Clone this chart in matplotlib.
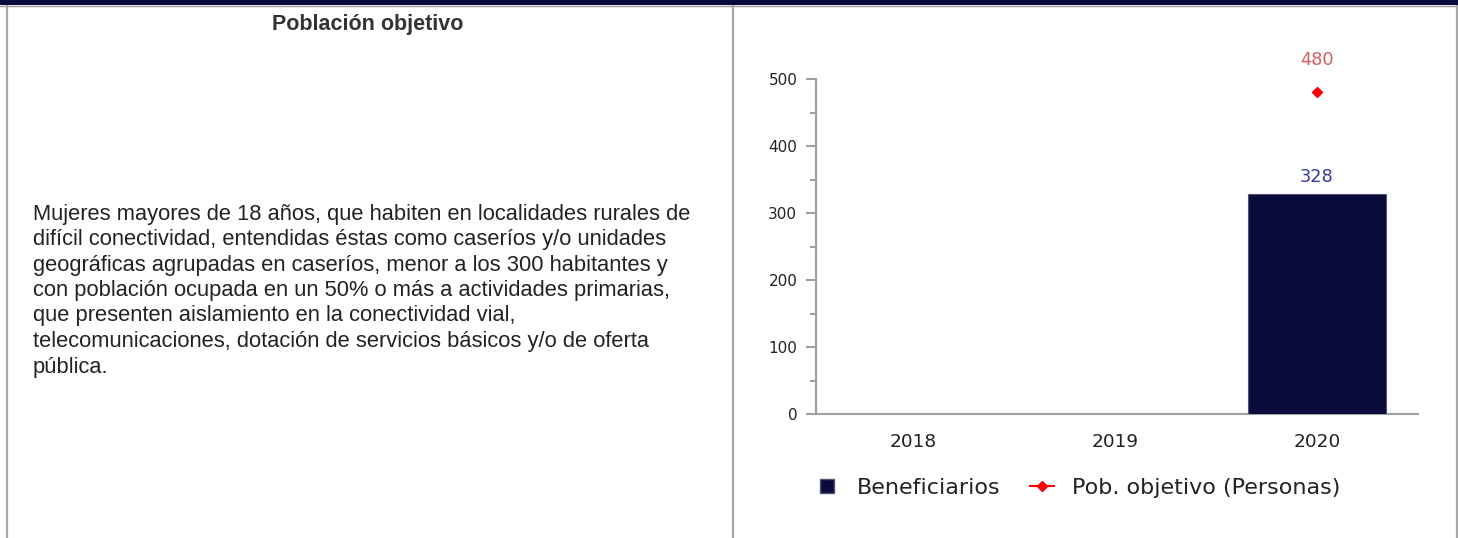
import numpy as np
import matplotlib
matplotlib.use("Agg")
import matplotlib.pyplot as plt
from matplotlib.lines import Line2D
from matplotlib.patches import Rectangle

plt.rcParams["font.family"] = ["DejaVu Sans"]

# ---- data ----
years = ["2018", "2019", "2020"]
beneficiarios = [np.nan, np.nan, 328]
pob_objetivo = [np.nan, np.nan, 480]
series_names = ["Beneficiarios", "Pob. objetivo (Personas)"]
yticks = [0, 100, 200, 300, 400, 500]

title_text = "Población objetivo"
body_lines = [
    "Mujeres mayores de 18 años, que habiten en localidades rurales de",
    "difícil conectividad, entendidas éstas como caseríos y/o unidades",
    "geográficas agrupadas en caseríos, menor a los 300 habitantes y",
    "con población ocupada en un 50% o más a actividades primarias,",
    "que presenten aislamiento en la conectividad vial,",
    "telecomunicaciones, dotación de servicios básicos y/o de oferta",
    "pública.",
]

W, H = 1458, 538
fig = plt.figure(figsize=(W / 100, H / 100), dpi=100)
fig.patch.set_facecolor("white")

def fx(px):
    return px / W

def fy(py):
    return 1 - py / H

# table frame
navy = "#0b0b3b"
fig.patches.append(Rectangle((0, fy(4.5)), 1, 4.5 / H, transform=fig.transFigure,
                             facecolor=navy, edgecolor="none", zorder=5))
fig.add_artist(Line2D([0, 1], [fy(5.5), fy(5.5)], color="#9a9a9a", lw=1.0,
                      transform=fig.transFigure))
for xp in (6.5, 732.5, 1456.5):
    fig.add_artist(Line2D([fx(xp), fx(xp)], [0, fy(5)], color="#a8a8a8", lw=1.6,
                          transform=fig.transFigure))

# left cell text
fig.text(fx(368), fy(24.5), title_text, ha="center", va="center",
         fontsize=15.5, fontweight="bold", color="#333333", family="Liberation Sans")
for i, line in enumerate(body_lines):
    fig.text(fx(33), fy(214 + i * 25.5), line, ha="left", va="center",
             fontsize=15.75, color="#222222", family="Liberation Sans")

# chart
ax = fig.add_axes([fx(816), 1 - 414 / H, fx(1418) - fx(816), 335 / H])
x = np.arange(len(years))
bar_color = "#0b0b3b"
ax.bar(x, beneficiarios, width=0.68, color=bar_color, edgecolor="#55557a",
       linewidth=0.8, zorder=3)
ax.plot(x, pob_objetivo, color="red", marker="D", markersize=5.5, lw=1.5, zorder=4)

for xi, v in zip(x, beneficiarios):
    if not np.isnan(v):
        ax.annotate(f"{int(v)}", (xi, v), xytext=(0, 12.5), textcoords="offset points",
                    ha="center", va="center", fontsize=12.8, color="#3a3a9e")
for xi, v in zip(x, pob_objetivo):
    if not np.isnan(v):
        ax.annotate(f"{int(v)}", (xi, v), xytext=(0, 23.5), textcoords="offset points",
                    ha="center", va="center", fontsize=12.8, color="#d65f5f")

ax.set_xlim(-0.48, 2.5)
ax.set_ylim(0, 500)
ax.set_xticks(x)
ax.set_xticklabels(years)
ax.set_yticks(yticks)
ax.set_yticks(np.arange(50, 500, 100), minor=True)
for s in ("top", "right"):
    ax.spines[s].set_visible(False)
for s in ("left", "bottom"):
    ax.spines[s].set_color("#a0a0a0")
    ax.spines[s].set_linewidth(1.5)
ax.tick_params(axis="x", length=0, pad=13.5, labelsize=13.3, labelcolor="#222222")
ax.tick_params(axis="y", which="major", length=7.5, width=1.5, color="#a0a0a0",
               pad=6, labelsize=11, labelcolor="#222222")
ax.tick_params(axis="y", which="minor", length=4.3, width=1.5, color="#a0a0a0")

handles = [
    Line2D([], [], marker="s", markersize=10, color=bar_color, lw=0, markeredgecolor="#55557a"),
    Line2D([], [], marker="D", markersize=5, color="red", lw=1.5),
]
leg = fig.legend(handles, series_names, loc="center left",
                 bbox_to_anchor=(fx(815), fy(488)), ncol=2, frameon=False,
                 fontsize=16, handlelength=1.1, handletextpad=0.8,
                 columnspacing=1.3, borderaxespad=0, borderpad=0)
for t in leg.get_texts():
    t.set_color("#222222")

fig.savefig("out.png", dpi=100)
